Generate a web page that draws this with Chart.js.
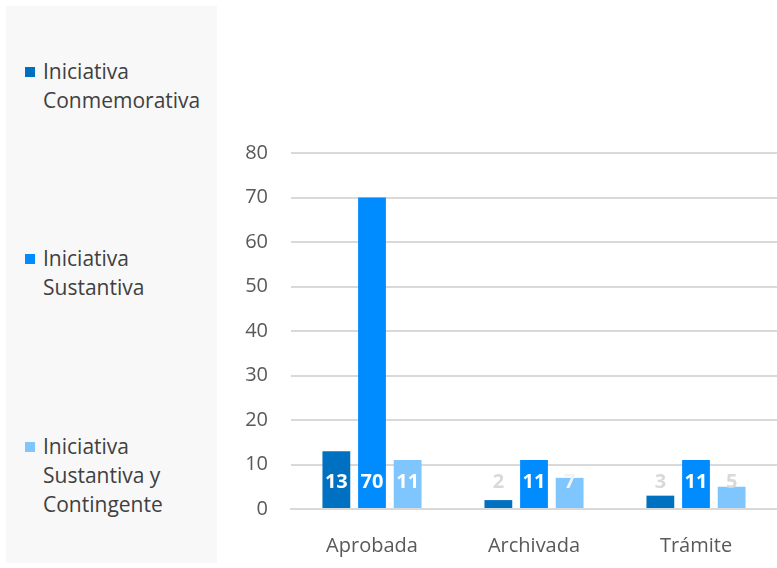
<!DOCTYPE html>
<html>
<head>
<meta charset="utf-8">
<script src="https://cdn.jsdelivr.net/npm/chart.js@4.4.0/dist/chart.umd.min.js"></script>
<style>
  html, body { margin: 0; padding: 0; width: 777px; height: 568px; overflow: hidden; background: #ffffff; font-family: "Open Sans", sans-serif; }
  #panel { position: absolute; left: 6px; top: 6px; width: 211px; height: 557px; background: #F8F8F8; }
  .lg { position: absolute; left: 43px; font-size: 21px; line-height: 29px; color: #404040; }
  .sw { position: absolute; left: -18px; top: 10px; width: 10px; height: 10px; }
  #wrap { position: absolute; left: 220px; top: 0; width: 557px; height: 568px; }
</style>
</head>
<body>
<div id="panel"></div>
<div id="legend"></div>
<div id="wrap"><canvas id="c" width="557" height="568"></canvas></div>
<script>
const categories = ["Aprobada", "Archivada", "Trámite"];
const seriesNames = ["Iniciativa Conmemorativa", "Iniciativa Sustantiva", "Iniciativa Sustantiva y Contingente"];
const conmemorativa = [13, 2, 3];
const sustantiva = [70, 11, 11];
const sustantivaContingente = [11, 7, 5];
const yTicks = [0, 10, 20, 30, 40, 50, 60, 70, 80];

const colors = ["#0070C0", "#008CFF", "#7FC6FF"];
const labelColors = [
  ["#FFFFFF", "#D9D9D9", "#D9D9D9"],
  ["#FFFFFF", "#FFFFFF", "#FFFFFF"],
  ["#FFFFFF", "#F2F2F2", "#D9D9D9"]
];

// HTML legend
const legendLines = [["Iniciativa", "Conmemorativa"], ["Iniciativa", "Sustantiva"], ["Iniciativa", "Sustantiva y", "Contingente"]];
const legendTops = [57, 244, 432];
const lg = document.getElementById('legend');
seriesNames.forEach((n, i) => {
  const d = document.createElement('div');
  d.className = 'lg';
  d.style.top = legendTops[i] + 'px';
  d.innerHTML = '<span class="sw" style="background:' + colors[i] + '"></span>' + legendLines[i].join('<br>');
  lg.appendChild(d);
});

const baseLabels = {
  id: 'baseLabels',
  afterDatasetsDraw(chart) {
    const ctx = chart.ctx;
    ctx.save();
    ctx.font = 'bold 20px "Open Sans", sans-serif';
    ctx.textAlign = 'center';
    ctx.textBaseline = 'middle';
    chart.data.datasets.forEach((ds, di) => {
      const meta = chart.getDatasetMeta(di);
      meta.data.forEach((bar, i) => {
        ctx.fillStyle = labelColors[di][i];
        ctx.fillText(String(ds.data[i]), bar.x, bar.base - 26);
      });
    });
    ctx.restore();
  }
};

new Chart(document.getElementById('c'), {
  type: 'bar',
  data: {
    labels: categories,
    datasets: [
      { label: seriesNames[0], data: conmemorativa, backgroundColor: colors[0] },
      { label: seriesNames[1], data: sustantiva, backgroundColor: colors[1] },
      { label: seriesNames[2], data: sustantivaContingente, backgroundColor: colors[2] }
    ]
  },
  options: {
    responsive: false,
    animation: false,
    layout: { padding: { top: 153, right: 0, bottom: 0, left: 0 } },
    datasets: { bar: { categoryPercentage: 0.66, barPercentage: 0.78 } },
    plugins: { legend: { display: false }, tooltip: { enabled: false } },
    scales: {
      x: {
        afterFit(axis) { axis.height = 59; },
        grid: { display: false },
        border: { color: '#D9D9D9', width: 2 },
        ticks: { color: '#595959', font: { size: 20, family: '"Open Sans", sans-serif' }, padding: 17 }
      },
      y: {
        min: 0, max: 80,
        afterFit(axis) { axis.width = 71; },
        afterBuildTicks(axis) { axis.ticks = yTicks.map(v => ({ value: v })); },
        grid: { color: '#D9D9D9', lineWidth: 2, drawTicks: false },
        border: { display: false },
        ticks: { color: '#595959', font: { size: 20, family: '"Open Sans", sans-serif' }, padding: 23 }
      }
    }
  },
  plugins: [baseLabels]
});
</script>
</body>
</html>
